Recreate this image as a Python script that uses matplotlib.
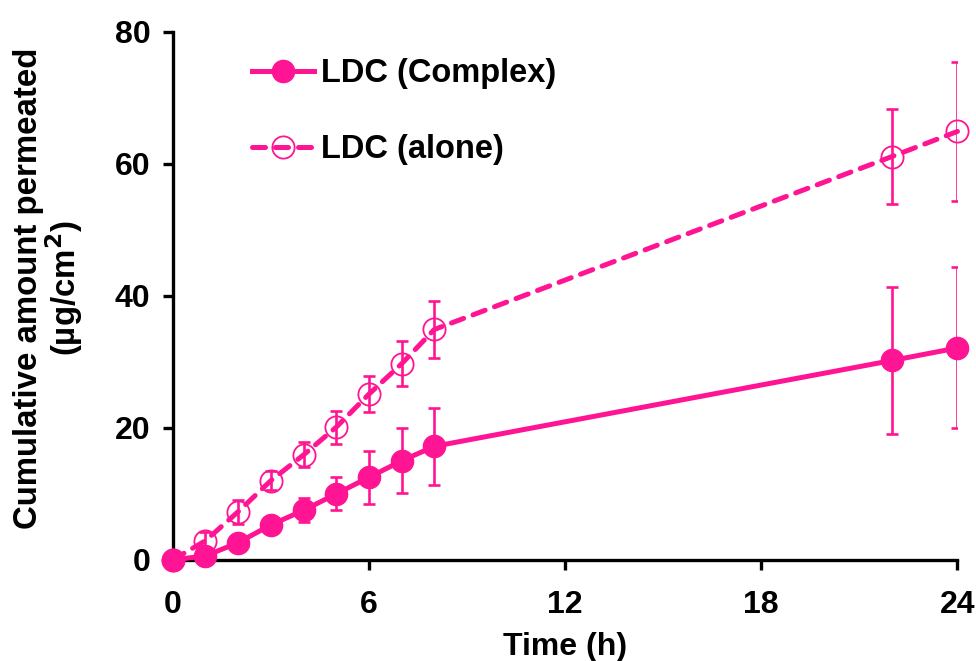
import numpy as np
import matplotlib.pyplot as plt

plt.rcParams['font.family'] = ['Liberation Sans', 'DejaVu Sans']
plt.rcParams['font.weight'] = 'bold'

# Permeation time points (h)
time_h = [0, 1, 2, 3, 4, 5, 6, 7, 8, 22, 24]

# LDC (Complex): mean and SD (ug/cm2)
complex_mean = [0.0, 0.6, 2.6, 5.3, 7.5, 10.0, 12.5, 15.0, 17.2, 30.2, 32.1]
complex_sd = [0.0, 0.3, 0.5, 0.8, 1.8, 2.5, 4.0, 4.9, 5.8, 11.1, 12.2]

# LDC (alone): mean and SD (ug/cm2)
alone_mean = [0.0, 2.9, 7.3, 12.0, 15.9, 20.1, 25.1, 29.7, 34.9, 61.1, 64.9]
alone_sd = [0.0, 1.3, 1.8, 1.4, 1.9, 2.5, 2.7, 3.4, 4.3, 7.2, 10.5]

x_ticks = [0, 6, 12, 18, 24]
y_ticks = [0, 20, 40, 60, 80]

pink = '#FF1493'

fig = plt.figure(figsize=(9.76, 6.61), dpi=100)
ax = fig.add_axes([0.177, 0.153, 0.804, 0.799])

# error bars (clipped at the plot edge), then the lines with markers on top
ax.errorbar(time_h, complex_mean, yerr=complex_sd, fmt='none', ecolor=pink,
            elinewidth=1.9, capsize=4, capthick=1.9, zorder=2)
ax.errorbar(time_h, alone_mean, yerr=alone_sd, fmt='none', ecolor=pink,
            elinewidth=1.9, capsize=4, capthick=1.9, zorder=4)

ax.plot(time_h, complex_mean, color=pink, lw=3.6, marker='o', ms=16,
        mfc=pink, mec=pink, label='LDC (Complex)', clip_on=False, zorder=3)
ax.plot(time_h, alone_mean, color=pink, lw=3.6, ls=(0, (2.6, 2.0)),
        dash_capstyle='round', marker='o', ms=16, mfc='none', mec=pink,
        mew=1.3, label='LDC (alone)', clip_on=False, zorder=3)

ax.set_xlim(0, 24)
ax.set_ylim(0, 80)
ax.set_xticks(x_ticks)
ax.set_yticks(y_ticks)

for side in ['top', 'right']:
    ax.spines[side].set_visible(False)
for side in ['left', 'bottom']:
    ax.spines[side].set_linewidth(2.4)
ax.tick_params(axis='both', direction='out', length=7, width=2.4,
               labelsize=23, pad=9)
ax.tick_params(axis='x', pad=15)

ax.set_xlabel('Time (h)', fontsize=23, fontweight='bold', labelpad=8)
ax.set_ylabel('Cumulative amount permeated\n(µg/cm$^{\\mathbf{2}}$)',
              fontsize=23.8, fontweight='bold', linespacing=0.98)
ax.yaxis.set_label_coords(-0.112, 0.515)

ax.legend(loc='upper left', bbox_to_anchor=(0.064, 1.006), frameon=False,
          fontsize=23.5, handlelength=1.9, handletextpad=0.2, labelspacing=1.38)

fig.savefig('out.png', dpi=100)
